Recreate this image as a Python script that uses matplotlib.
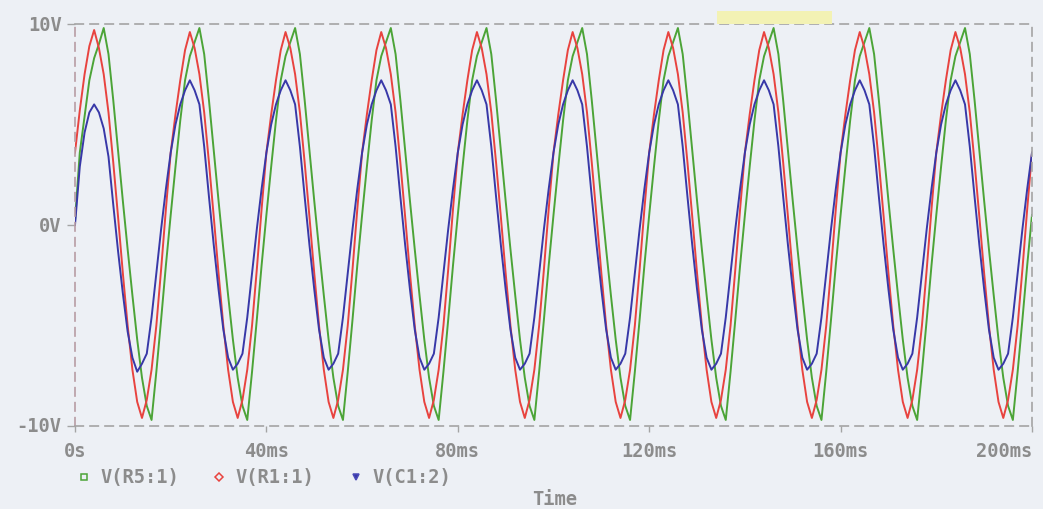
import matplotlib
matplotlib.use('Agg')
import matplotlib.pyplot as plt
from matplotlib.lines import Line2D
from matplotlib.patches import Rectangle

# transient trace, one sample per ms (0 .. 200 ms)
time_ms = list(range(0, 201))

# V(R5:1) - green
v_r5 = [
    0.2, 3.6, 5.4, 7.2, 8.3, 9.0, 9.8, 8.5, 6.2, 3.7, 1.2, -1.2, -3.5, -5.7, -7.6, -9.0, -9.7, -7.3, -4.7, -2.0,
    0.5, 2.9, 5.2, 7.2, 8.4, 9.1, 9.8, 8.5, 6.2, 3.7, 1.2, -1.2, -3.5, -5.7, -7.6, -9.0, -9.7, -7.3, -4.7, -2.0,
    0.5, 2.9, 5.2, 7.2, 8.4, 9.1, 9.8, 8.5, 6.2, 3.7, 1.2, -1.2, -3.5, -5.7, -7.6, -9.0, -9.7, -7.3, -4.7, -2.0,
    0.5, 2.9, 5.2, 7.2, 8.4, 9.1, 9.8, 8.5, 6.2, 3.7, 1.2, -1.2, -3.5, -5.7, -7.6, -9.0, -9.7, -7.3, -4.7, -2.0,
    0.5, 2.9, 5.2, 7.2, 8.4, 9.1, 9.8, 8.5, 6.2, 3.7, 1.2, -1.2, -3.5, -5.7, -7.6, -9.0, -9.7, -7.3, -4.7, -2.0,
    0.5, 2.9, 5.2, 7.2, 8.4, 9.1, 9.8, 8.5, 6.2, 3.7, 1.2, -1.2, -3.5, -5.7, -7.6, -9.0, -9.7, -7.3, -4.7, -2.0,
    0.5, 2.9, 5.2, 7.2, 8.4, 9.1, 9.8, 8.5, 6.2, 3.7, 1.2, -1.2, -3.5, -5.7, -7.6, -9.0, -9.7, -7.3, -4.7, -2.0,
    0.5, 2.9, 5.2, 7.2, 8.4, 9.1, 9.8, 8.5, 6.2, 3.7, 1.2, -1.2, -3.5, -5.7, -7.6, -9.0, -9.7, -7.3, -4.7, -2.0,
    0.5, 2.9, 5.2, 7.2, 8.4, 9.1, 9.8, 8.5, 6.2, 3.7, 1.2, -1.2, -3.5, -5.7, -7.6, -9.0, -9.7, -7.3, -4.7, -2.0,
    0.5, 2.9, 5.2, 7.2, 8.4, 9.1, 9.8, 8.5, 6.2, 3.7, 1.2, -1.2, -3.5, -5.7, -7.6, -9.0, -9.7, -7.3, -4.7, -2.0,
    0.5,
]

# V(R1:1) - red
v_r1 = [
    3.6, 5.7, 7.5, 8.9, 9.7, 8.8, 7.5, 5.6, 3.1, 0.4, -2.4, -5.0, -7.2, -8.8, -9.6, -8.7, -7.2, -5.0, -2.2, 0.8,
    3.6, 5.5, 7.2, 8.7, 9.6, 8.8, 7.5, 5.6, 3.1, 0.4, -2.4, -5.0, -7.2, -8.8, -9.6, -8.7, -7.2, -5.0, -2.2, 0.8,
    3.6, 5.5, 7.2, 8.7, 9.6, 8.8, 7.5, 5.6, 3.1, 0.4, -2.4, -5.0, -7.2, -8.8, -9.6, -8.7, -7.2, -5.0, -2.2, 0.8,
    3.6, 5.5, 7.2, 8.7, 9.6, 8.8, 7.5, 5.6, 3.1, 0.4, -2.4, -5.0, -7.2, -8.8, -9.6, -8.7, -7.2, -5.0, -2.2, 0.8,
    3.6, 5.5, 7.2, 8.7, 9.6, 8.8, 7.5, 5.6, 3.1, 0.4, -2.4, -5.0, -7.2, -8.8, -9.6, -8.7, -7.2, -5.0, -2.2, 0.8,
    3.6, 5.5, 7.2, 8.7, 9.6, 8.8, 7.5, 5.6, 3.1, 0.4, -2.4, -5.0, -7.2, -8.8, -9.6, -8.7, -7.2, -5.0, -2.2, 0.8,
    3.6, 5.5, 7.2, 8.7, 9.6, 8.8, 7.5, 5.6, 3.1, 0.4, -2.4, -5.0, -7.2, -8.8, -9.6, -8.7, -7.2, -5.0, -2.2, 0.8,
    3.6, 5.5, 7.2, 8.7, 9.6, 8.8, 7.5, 5.6, 3.1, 0.4, -2.4, -5.0, -7.2, -8.8, -9.6, -8.7, -7.2, -5.0, -2.2, 0.8,
    3.6, 5.5, 7.2, 8.7, 9.6, 8.8, 7.5, 5.6, 3.1, 0.4, -2.4, -5.0, -7.2, -8.8, -9.6, -8.7, -7.2, -5.0, -2.2, 0.8,
    3.6, 5.5, 7.2, 8.7, 9.6, 8.8, 7.5, 5.6, 3.1, 0.4, -2.4, -5.0, -7.2, -8.8, -9.6, -8.7, -7.2, -5.0, -2.2, 0.8,
    3.6,
]

# V(C1:2) - blue
v_c1 = [
    0.0, 2.9, 4.6, 5.6, 6.0, 5.6, 4.8, 3.4, 1.0, -1.3, -3.4, -5.3, -6.6, -7.3, -6.9, -6.4, -4.6, -2.4, -0.2, 1.8,
    3.6, 5.0, 6.0, 6.7, 7.2, 6.7, 6.0, 3.9, 1.4, -1.0, -3.2, -5.2, -6.6, -7.2, -6.9, -6.4, -4.6, -2.4, -0.2, 1.8,
    3.6, 5.0, 6.0, 6.7, 7.2, 6.7, 6.0, 3.9, 1.4, -1.0, -3.2, -5.2, -6.6, -7.2, -6.9, -6.4, -4.6, -2.4, -0.2, 1.8,
    3.6, 5.0, 6.0, 6.7, 7.2, 6.7, 6.0, 3.9, 1.4, -1.0, -3.2, -5.2, -6.6, -7.2, -6.9, -6.4, -4.6, -2.4, -0.2, 1.8,
    3.6, 5.0, 6.0, 6.7, 7.2, 6.7, 6.0, 3.9, 1.4, -1.0, -3.2, -5.2, -6.6, -7.2, -6.9, -6.4, -4.6, -2.4, -0.2, 1.8,
    3.6, 5.0, 6.0, 6.7, 7.2, 6.7, 6.0, 3.9, 1.4, -1.0, -3.2, -5.2, -6.6, -7.2, -6.9, -6.4, -4.6, -2.4, -0.2, 1.8,
    3.6, 5.0, 6.0, 6.7, 7.2, 6.7, 6.0, 3.9, 1.4, -1.0, -3.2, -5.2, -6.6, -7.2, -6.9, -6.4, -4.6, -2.4, -0.2, 1.8,
    3.6, 5.0, 6.0, 6.7, 7.2, 6.7, 6.0, 3.9, 1.4, -1.0, -3.2, -5.2, -6.6, -7.2, -6.9, -6.4, -4.6, -2.4, -0.2, 1.8,
    3.6, 5.0, 6.0, 6.7, 7.2, 6.7, 6.0, 3.9, 1.4, -1.0, -3.2, -5.2, -6.6, -7.2, -6.9, -6.4, -4.6, -2.4, -0.2, 1.8,
    3.6, 5.0, 6.0, 6.7, 7.2, 6.7, 6.0, 3.9, 1.4, -1.0, -3.2, -5.2, -6.6, -7.2, -6.9, -6.4, -4.6, -2.4, -0.2, 1.8,
    3.6,
]

x_ticks = [0, 40, 80, 120, 160, 200]
x_labels = ['0s', '40ms', '80ms', '120ms', '160ms', '200ms']
y_ticks = [-10, 0, 10]
y_labels = ['-10V', '0V', '10V']
legend_names = ['V(R5:1)', 'V(R1:1)', 'V(C1:2)']

bg = '#edf0f5'
txt = '#8c8c8c'
font = dict(family='DejaVu Sans Mono', fontweight='bold', fontsize=13.5, color=txt)

fig = plt.figure(figsize=(10.43, 5.10), dpi=100, facecolor=bg)
ax = fig.add_axes([75/1043, 1 - 427/510, 957/1043, 402/510], facecolor=bg)

ax.plot(time_ms, v_r5, color='#4ca437', lw=1.4)
ax.plot(time_ms, v_r1, color='#e8433f', lw=1.4)
ax.plot(time_ms, v_c1, color='#3838a8', lw=1.4)

ax.set_xlim(0, 200)
ax.set_ylim(-10, 10)

for side in ['top', 'bottom', 'right', 'left']:
    ax.spines[side].set_linestyle((0, (5, 4)))
    ax.spines[side].set_linewidth(1.2)
    ax.spines[side].set_color('#a4a4a4')
ax.spines['left'].set_color('#b89ca4')

ax.set_xticks(x_ticks)
ax.set_xticklabels([])
ax.set_yticks(y_ticks)
ax.set_yticklabels([])
ax.tick_params(axis='x', direction='out', length=4, width=1, color='#a4a4a4')
ax.tick_params(axis='y', direction='out', length=6, width=1, color='#a4a4a4')

# axis labels in the PSpice probe style
for v, s in zip(y_ticks, y_labels):
    ax.text(-0.014, v, s, transform=ax.get_yaxis_transform(), ha='right', va='center', **font)
for i, (v, s) in enumerate(zip(x_ticks, x_labels)):
    ha = 'right' if i == len(x_ticks) - 1 else 'center'
    ax.text(v, -0.062, s, transform=ax.get_xaxis_transform(), ha=ha, va='center', **font)

# legend row
leg_y = 1 - 478/510
markers = [('s', '#4ca437', 'none'), ('D', '#e8433f', 'none'), ('v', '#4a4ab8', '#3838a8')]
mark_x = [84, 219, 356]
for (m, c, fc), mx, name in zip(markers, mark_x, legend_names):
    ms = 4.5 if m != 'D' else 3.8
    fig.add_artist(Line2D([mx/1043], [leg_y], transform=fig.transFigure, marker=m,
                          markersize=ms, markeredgecolor=c, markerfacecolor=fc,
                          markeredgewidth=1.1, linestyle='none'))
    fig.text((mx + 16)/1043, leg_y, name, ha='left', va='center', **font)

fig.text(555/1043, 1 - 500/510, 'Time', ha='center', va='center', **font)

# yellow cursor tag at the top
fig.add_artist(Rectangle((717/1043, 1 - 25/510), 115/1043, 13/510,
                         transform=fig.transFigure, facecolor='#f3f2b4', edgecolor='none'))

fig.savefig('out.png', dpi=100, facecolor=bg)
